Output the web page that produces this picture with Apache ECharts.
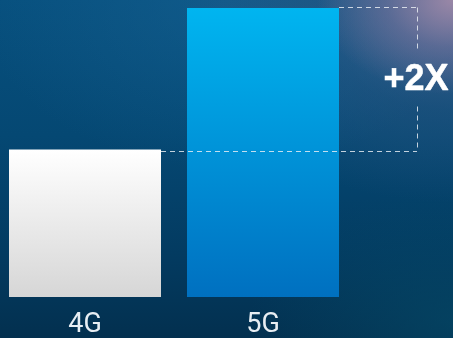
<!DOCTYPE html>
<html><head><meta charset="utf-8">
<script src="https://cdn.jsdelivr.net/npm/echarts@6/dist/echarts.min.js"></script>
<style>
html,body{margin:0;padding:0;width:453px;height:338px;overflow:hidden;}
body{background:
 radial-gradient(ellipse 30% 28% at 100% 0%, rgba(165,140,170,0.9) 0%, rgba(130,120,160,0.5) 50%, rgba(90,100,145,0) 100%),
 radial-gradient(ellipse 60% 55% at 100% 5%, rgba(85,105,150,0.7) 0%, rgba(60,90,135,0.35) 50%, rgba(40,80,120,0) 100%),
 radial-gradient(ellipse 55% 50% at 50% 0%, rgba(25,100,150,0.5) 0%, rgba(20,90,140,0) 100%),
 radial-gradient(ellipse 45% 40% at 100% 95%, rgba(5,75,105,0.6) 0%, rgba(5,70,100,0) 100%),
 linear-gradient(180deg, #07507e 0%, #054873 40%, #033b61 75%, #03304f 100%);}
#c{width:453px;height:338px;}
</style></head><body>
<div id="c"></div>
<script>
const categories = ["4G", "5G"];
const values = [1.02, 2];
const ratioLabel = "+2X";

const chart = echarts.init(document.getElementById('c'), null, {renderer: 'canvas'});
const barColors = [
  new echarts.graphic.LinearGradient(0,0,0,1,[{offset:0,color:'#ffffff'},{offset:1,color:'#d6d6d6'}]),
  new echarts.graphic.LinearGradient(0,0,0,1,[{offset:0,color:'#00b5f0'},{offset:1,color:'#0070c0'}])
];
chart.setOption({
  backgroundColor: 'transparent',
  animation: false,
  grid: {left: -4, top: 8, width: 356, bottom: 41, containLabel: false, outerBoundsMode: 'none'},
  xAxis: {
    type: 'category', data: categories,
    axisLine: {show: false}, axisTick: {show: false}, splitLine: {show: false},
    axisLabel: {color: '#e8eef3', fontFamily: 'Roboto', fontSize: 27, margin: 28, verticalAlign: 'middle'}
  },
  yAxis: {type: 'value', min: 0, max: 2, show: false, splitLine: {show: false}},
  series: [{
    type: 'bar', barWidth: 152,
    data: values.map((v, i) => ({value: v, itemStyle: {color: barColors[i]}}))
  }]
});

function drawAnnot(){
  const xLine = 417;
  const p0 = chart.convertToPixel({gridIndex: 0}, [0, values[0]]);
  const p1 = chart.convertToPixel({gridIndex: 0}, [1, values[1]]);
  const half = 76;
  const y0 = Math.round(p0[1]) + 1.5;
  const y1 = Math.round(p1[1]) - 0.5;
  const yMid = (y0 + y1) / 2;
  const ls = {stroke: 'rgba(235,240,245,0.82)', lineWidth: 1, lineDash: [5, 4]};
  chart.setOption({graphic: [
    {type: 'line', shape: {x1: p0[0] + half, y1: y0, x2: xLine, y2: y0}, style: ls, z: 100},
    {type: 'line', shape: {x1: p1[0] + half, y1: y1, x2: xLine, y2: y1}, style: ls, z: 100},
    {type: 'line', shape: {x1: xLine + 0.5, y1: y1, x2: xLine + 0.5, y2: yMid - 30}, style: ls, z: 100},
    {type: 'line', shape: {x1: xLine + 0.5, y1: yMid + 27, x2: xLine + 0.5, y2: y0}, style: ls, z: 100},
    {type: 'text', x: xLine - 1, y: yMid + 1, z: 101, style: {
      text: ratioLabel, fill: '#ffffff', font: 'bold 36px "Liberation Sans"',
      align: 'center', verticalAlign: 'middle',
      stroke: '#ffffff', lineWidth: 0.5,
      shadowColor: 'rgba(0,0,0,0.25)', shadowBlur: 2
    }}
  ]});
}
drawAnnot();
</script>
</body></html>
